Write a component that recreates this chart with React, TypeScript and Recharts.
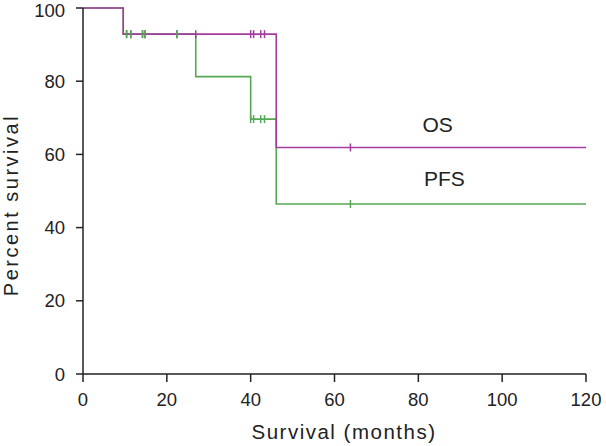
import React from "react";
import {
  ComposedChart,
  Line,
  Scatter,
  XAxis,
  YAxis,
  ReferenceDot,
} from "recharts";

// Kaplan-Meier step points (months, % surviving)
const osTime = [0, 9.6, 46.1, 120];
const osSurvival = [100, 92.86, 61.9, 61.9];
const pfsTime = [0, 9.6, 26.9, 40, 46.1, 120];
const pfsSurvival = [100, 92.86, 81.25, 69.64, 46.43, 46.43];

// censored patients (months)
const osCensored = [10.4, 11.4, 14.2, 14.8, 22.4, 26.9, 40, 40.7, 42.4, 43.3, 63.8];
const pfsCensored = [10.4, 11.4, 14.2, 14.8, 22.4, 40, 40.7, 42.4, 43.3, 63.8];

const xTicks = [0, 20, 40, 60, 80, 100, 120];
const yTicks = [0, 20, 40, 60, 80, 100];

const OS_COLOR = "#a63d9e";
const PFS_COLOR = "#55a955";
const AXIS_COLOR = "#222";
const FONT = "'Liberation Sans', Arial, sans-serif";

const toPoints = (times: number[], values: number[]) =>
  times.map((t, i) => ({ x: t, y: values[i] }));

// value of the step curve at time t
const stepAt = (times: number[], values: number[], t: number) => {
  let v = values[0];
  times.forEach((tt, i) => {
    if (tt <= t) v = values[i];
  });
  return v;
};

const osData = toPoints(osTime, osSurvival);
const pfsData = toPoints(pfsTime, pfsSurvival);
const osMarks = osCensored.map((t) => ({ x: t, y: stepAt(osTime, osSurvival, t) }));
const pfsMarks = pfsCensored.map((t) => ({ x: t, y: stepAt(pfsTime, pfsSurvival, t) }));

const censorTick = (color: string) => (props: any) => (
  <line
    x1={props.cx}
    x2={props.cx}
    y1={props.cy - 4}
    y2={props.cy + 4}
    stroke={color}
    strokeWidth={1.5}
  />
);

const tickStyle = { fontSize: 18.5, fill: AXIS_COLOR, fontFamily: FONT };

export default function App() {
  return (
    <div style={{ position: "absolute", left: 0, top: 0, background: "#fff" }}>
      <ComposedChart
        width={606}
        height={446}
        margin={{ top: 8, right: 20, bottom: 0, left: 0 }}
      >
        <XAxis
          dataKey="x"
          type="number"
          domain={[0, 120]}
          ticks={xTicks}
          allowDuplicatedCategory={false}
          height={72}
          tickSize={8}
          tickMargin={11}
          stroke={AXIS_COLOR}
          strokeWidth={1.5}
          tick={tickStyle}
          label={{
            content: () => (
              <text
                x={344}
                y={439}
                textAnchor="middle"
                fontSize={20.5}
                letterSpacing={1.5}
                fill={AXIS_COLOR}
                fontFamily={FONT}
              >
                Survival (months)
              </text>
            ),
          }}
        />
        <YAxis
          dataKey="y"
          type="number"
          domain={[0, 100]}
          ticks={yTicks}
          width={83}
          tickSize={7}
          tickMargin={11}
          stroke={AXIS_COLOR}
          strokeWidth={1.5}
          tick={tickStyle}
          label={{
            content: () => (
              <text
                x={18}
                y={205}
                transform="rotate(-90 18 205)"
                textAnchor="middle"
                fontSize={20}
                letterSpacing={2.5}
                fill={AXIS_COLOR}
                fontFamily={FONT}
              >
                Percent survival
              </text>
            ),
          }}
        />
        <Line
          data={pfsData}
          dataKey="y"
          type="stepAfter"
          stroke={PFS_COLOR}
          strokeWidth={1.6}
          dot={false}
          isAnimationActive={false}
        />
        <Line
          data={osData}
          dataKey="y"
          type="stepAfter"
          stroke={OS_COLOR}
          strokeWidth={1.6}
          dot={false}
          isAnimationActive={false}
        />
        <Scatter
          data={osMarks}
          dataKey="y"
          shape={censorTick(OS_COLOR)}
          isAnimationActive={false}
        />
        <Scatter
          data={pfsMarks}
          dataKey="y"
          shape={censorTick(PFS_COLOR)}
          isAnimationActive={false}
        />
        <ReferenceDot
          x={84.6}
          y={68.2}
          r={0}
          fill="none"
          stroke="none"
          label={{ value: "OS", position: "center", fontSize: 21, fill: AXIS_COLOR, fontFamily: FONT }}
        />
        <ReferenceDot
          x={86.2}
          y={53.3}
          r={0}
          fill="none"
          stroke="none"
          label={{ value: "PFS", position: "center", fontSize: 21, fill: AXIS_COLOR, fontFamily: FONT }}
        />
      </ComposedChart>
    </div>
  );
}
